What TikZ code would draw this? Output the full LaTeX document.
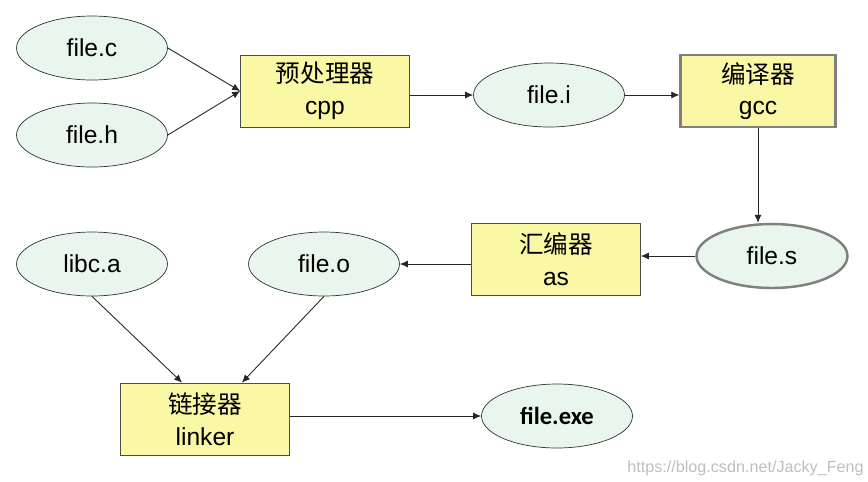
\documentclass[tikz,border=0pt]{standalone}
\usepackage{fontspec}
\setmainfont{Liberation Sans}
\newfontfamily\cjk{Noto Sans CJK SC}
\newfontfamily\exefont{Carlito}
\usetikzlibrary{arrows.meta,shapes.geometric}
\definecolor{filefill}{HTML}{E8F6EE}
\definecolor{toolfill}{HTML}{FAF7A5}

\begin{document}
\begin{tikzpicture}[x=0.02cm,y=-0.02cm,
  file/.style={ellipse,draw=black!80,fill=filefill,minimum width=3.02cm,minimum height=1.28cm,font=\fontsize{14}{16}\selectfont},
  tool/.style={rectangle,draw=black!70,fill=toolfill,minimum width=3.38cm,minimum height=1.44cm,align=center,font=\fontsize{14}{18}\selectfont},
  flow/.style={-{Latex[length=1.6mm,width=1.4mm]},black!85,line width=.5pt}]
\useasboundingbox (0,0) rectangle (868,481);
\fill[white] (0,0) rectangle (868,481);
% source files and preprocessor
\node[file] (filec) at (92,48) {file.c};
\node[file] (fileh) at (92,135) {file.h};
\node[tool] (cpp) at (325,91) {{\cjk 预处理器}\\cpp};
\node[file] (filei) at (549,95) {file.i};
\node[tool,draw=black!50,line width=1.4pt,minimum width=3.1cm] (gcc) at (758,91) {{\cjk 编译器}\\gcc};
\node[file,draw=black!50,line width=1.4pt] (files) at (772,256) {file.s};
\node[tool] (as) at (556,259) {{\cjk 汇编器}\\as};
\node[file] (fileo) at (324,264) {file.o};
\node[file] (libc) at (92,264) {libc.a};
\node[tool] (linker) at (205,419) {{\cjk 链接器}\\linker};
\node[file,font=\exefont\bfseries\fontsize{14}{16}\selectfont] (fileexe) at (557,416) {file.exe};
% connectors
\draw[flow] (filec.east) -- (cpp.west);
\draw[flow] (fileh.east) -- (cpp.west);
\draw[flow] (cpp.east |- filei.west) -- (filei.west);
\draw[flow] (filei.east) -- (gcc.west |- filei.east);
\draw[flow] (files.north -| gcc.south) ++(0,-95) -- (files.north -| gcc.south);
\draw[flow] (files.west) -- (as.east |- files.west);
\draw[flow] (as.west |- fileo.east) -- (fileo.east);
\draw[flow] (libc.south) -- ([xshift=-13]linker.north);
\draw[flow] (fileo.south) -- ([xshift=21]linker.north);
\draw[flow] (linker.east |- fileexe.west) -- (fileexe.west);
\node[anchor=base east,text=black!25,font=\fontsize{9.2}{11}\selectfont,inner sep=0] (mark) at (864,472) {https://blog.csdn.net/Jacky\_Feng};
\end{tikzpicture}
\end{document}
